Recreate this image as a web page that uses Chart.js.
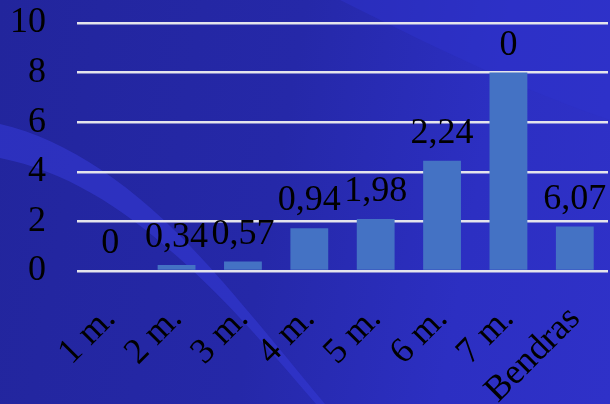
<!DOCTYPE html>
<html>
<head>
<meta charset="utf-8">
<script src="https://cdn.jsdelivr.net/npm/chart.js@4"></script>
<style>
  html, body { margin: 0; padding: 0; }
  body { width: 610px; height: 404px; overflow: hidden; position: relative;
         background: linear-gradient(100deg, #22259c 0%, #2528a8 45%, #2c2fc2 75%, #2f31c8 100%); }
  #bg { position: absolute; left: 0; top: 0; }
  #wrap { position: absolute; left: 0; top: 0; width: 610px; height: 404px; }
</style>
</head>
<body>
<!-- decorative swooshes of the slide background -->
<svg id="bg" width="610" height="404">
  <path d="M340,0 C420,40 520,90 610,120 L610,0 Z" fill="#2e32cc" opacity="0.5"/>
  <path d="M0,124 C70,140 140,190 205,262 C240,300 280,350 325,404 L316,404 C270,350 230,305 192,270 C130,212 70,172 0,158 Z" fill="#3338d4" opacity="0.6"/>
</svg>
<div id="wrap"><canvas id="chart"></canvas></div>
<script>
// ================================
// DATA
// ================================
var categories = ["1 m.", "2 m.", "3 m.", "4 m.", "5 m.", "6 m.", "7 m.", "Bendras"];
var values = [0, 0.24, 0.38, 1.72, 2.1, 4.45, 8.0, 1.79];
var valueLabels = ["0", "0,34", "0,57", "0,94", "1,98", "2,24", "0", "6,07"];
var yTicks = [0, 2, 4, 6, 8, 10];

var FONT = "'Liberation Serif', 'Times New Roman', serif";

// labels above each bar (text taken from valueLabels)
var barLabels = {
  id: "barLabels",
  afterDatasetsDraw: function(chart) {
    var ctx = chart.ctx;
    var meta = chart.getDatasetMeta(0);
    ctx.save();
    ctx.font = "36px " + FONT;
    ctx.fillStyle = "#000000";
    ctx.textAlign = "center";
    ctx.textBaseline = "alphabetic";
    meta.data.forEach(function(bar, i) {
      ctx.fillText(valueLabels[i], bar.x, bar.y - 18);
    });
    ctx.restore();
  }
};

var ctx = document.getElementById("chart").getContext("2d");

var myChart = new Chart(ctx, {
  type: "bar",
  data: {
    labels: categories,
    datasets: [{
      data: values,
      backgroundColor: "#4472c4",
      borderWidth: 0,
      barPercentage: 0.57,
      categoryPercentage: 1
    }]
  },
  options: {
    responsive: true,
    maintainAspectRatio: false,
    animation: false,
    layout: { padding: { left: 0, right: 2, top: 23, bottom: 0 } },
    plugins: {
      legend: { display: false },
      tooltip: { enabled: false }
    },
    scales: {
      x: {
        grid: { display: false },
        border: { display: false },
        ticks: {
          color: "#000000",
          font: { family: FONT, size: 36 },
          minRotation: 45,
          maxRotation: 45,
          autoSkip: false,
          padding: 19
        },
        afterFit: function(scale) {
          scale.height = 404 - 271;
          scale.paddingLeft = 0;
          scale.paddingRight = 0;
        }
      },
      y: {
        min: 0,
        max: 10,
        afterBuildTicks: function(scale) {
          scale.ticks = yTicks.map(function(v) { return { value: v }; });
        },
        grid: { color: "#e4e4ec", lineWidth: 2.5, drawTicks: false },
        border: { display: false },
        ticks: {
          color: "#000000",
          font: { family: FONT, size: 36 },
          autoSkip: false,
          padding: 31
        },
        afterFit: function(scale) {
          scale.width = 77;
          scale.paddingTop = 0;
          scale.paddingBottom = 0;
        }
      }
    }
  },
  plugins: [barLabels]
});
</script>
</body>
</html>
